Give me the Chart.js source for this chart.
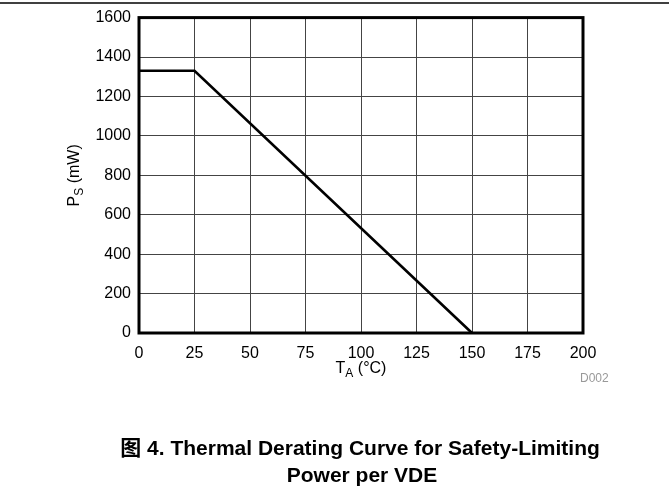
<!DOCTYPE html>
<html>
<head>
<meta charset="utf-8">
<script src="https://cdn.jsdelivr.net/npm/chart.js@4/dist/chart.umd.min.js"></script>
<style>
  html, body { margin: 0; padding: 0; background: #fff; }
  #wrap { width: 669px; height: 493px; position: relative; }
</style>
</head>
<body>
<div id="wrap"><canvas id="c" width="669" height="493"></canvas></div>
<script>
// Safety-limiting power versus ambient temperature (VDE derating)
const temperatureC = [0, 25, 150];
const powerMW = [1330, 1330, 0];

// Axis tick values
const xTickValues = [0, 25, 50, 75, 100, 125, 150, 175, 200];
const yTickValues = [0, 200, 400, 600, 800, 1000, 1200, 1400, 1600];

// Texts
const yTitle = { main: 'P', sub: 'S', rest: ' (mW)' };
const xTitle = { main: 'T', sub: 'A', rest: ' (°C)' };
const figureId = 'D002';
const captionLines = ['图 4. Thermal Derating Curve for Safety-Limiting', 'Power per VDE'];

const FONT = '"Liberation Sans", Arial, "Noto Sans CJK SC", sans-serif';

function drawSubscripted(ctx, parts, cx, cy, size) {
  const subSize = size * 0.75;
  ctx.font = size + 'px ' + FONT;
  const wMain = ctx.measureText(parts.main).width;
  const wRest = ctx.measureText(parts.rest).width;
  ctx.font = subSize + 'px ' + FONT;
  const wSub = ctx.measureText(parts.sub).width;
  let x = cx - (wMain + wSub + wRest) / 2;
  ctx.textBaseline = 'middle';
  ctx.textAlign = 'left';
  ctx.font = size + 'px ' + FONT;
  ctx.fillText(parts.main, x, cy);
  x += wMain;
  ctx.font = subSize + 'px ' + FONT;
  ctx.fillText(parts.sub, x, cy + size * 0.3);
  x += wSub;
  ctx.font = size + 'px ' + FONT;
  ctx.fillText(parts.rest, x, cy);
}

const decorations = {
  id: 'decorations',
  afterDraw(chart) {
    const ctx = chart.ctx;
    const a = chart.chartArea;
    ctx.save();
    // rule across the top of the page
    ctx.strokeStyle = '#000';
    ctx.lineWidth = 1.6;
    ctx.beginPath();
    ctx.moveTo(0, 3);
    ctx.lineTo(669, 3);
    ctx.stroke();

    // plot frame
    ctx.lineWidth = 3;
    ctx.strokeRect(a.left, a.top, a.right - a.left, a.bottom - a.top);

    ctx.fillStyle = '#000';
    // x axis title
    drawSubscripted(ctx, xTitle, (a.left + a.right) / 2, 369, 16);
    // y axis title (rotated)
    ctx.save();
    ctx.translate(75, (a.top + a.bottom) / 2);
    ctx.rotate(-Math.PI / 2);
    drawSubscripted(ctx, yTitle, 0, 0, 16);
    ctx.restore();

    // figure id
    ctx.fillStyle = '#999';
    ctx.font = '12px ' + FONT;
    ctx.textAlign = 'left';
    ctx.textBaseline = 'middle';
    ctx.fillText(figureId, 580, 379);

    // caption
    ctx.fillStyle = '#000';
    ctx.font = 'bold 21px ' + FONT;
    ctx.textAlign = 'center';
    ctx.fillText(captionLines[0], 360, 449);
    ctx.fillText(captionLines[1], 362, 476);
    ctx.restore();
  }
};

const tickFont = { family: FONT, size: 16 };
const plainNumber = v => String(v);

new Chart(document.getElementById('c'), {
  type: 'scatter',
  data: {
    datasets: [{
      data: temperatureC.map((t, i) => ({ x: t, y: powerMW[i] })),
      showLine: true,
      borderColor: '#000',
      borderWidth: 2.6,
      pointRadius: 0,
      tension: 0,
      clip: false
    }]
  },
  options: {
    responsive: false,
    animation: false,
    devicePixelRatio: 1,
    layout: { padding: { left: 0, top: 17, right: 86, bottom: 0 } },
    plugins: { legend: { display: false }, tooltip: { enabled: false } },
    scales: {
      x: {
        type: 'linear',
        min: 0,
        max: 200,
        afterBuildTicks: s => { s.ticks = xTickValues.map(v => ({ value: v })); },
        afterFit: s => { s.height = 160; },
        ticks: { font: tickFont, color: '#000', padding: 11, maxRotation: 0, autoSkip: false, callback: plainNumber },
        grid: { color: '#444', lineWidth: 1, drawTicks: false },
        border: { display: false }
      },
      y: {
        type: 'linear',
        min: 0,
        max: 1600,
        afterBuildTicks: s => { s.ticks = yTickValues.map(v => ({ value: v })); },
        afterFit: s => { s.width = 139; },
        ticks: { font: tickFont, color: '#000', padding: 8, autoSkip: false, callback: plainNumber },
        grid: { color: '#444', lineWidth: 1, drawTicks: false },
        border: { display: false }
      }
    }
  },
  plugins: [decorations]
});
</script>
</body>
</html>
